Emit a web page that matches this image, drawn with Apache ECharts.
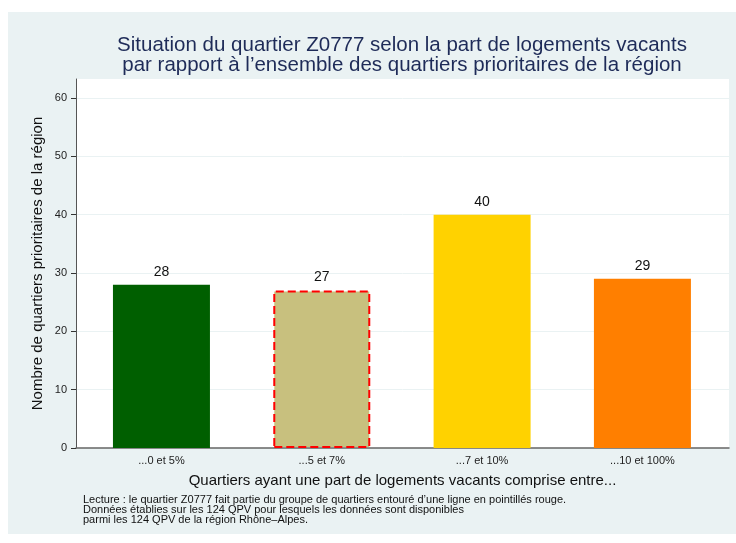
<!DOCTYPE html>
<html>
<head>
<meta charset="utf-8">
<script src="https://cdn.jsdelivr.net/npm/echarts@6/dist/echarts.min.js"></script>
<style>
  html, body { margin: 0; padding: 0; background: #fff; }
  #page { width: 736px; height: 543px; position: relative; background: #fff; }
  #chart { position: absolute; left: 8px; top: 12px; width: 728px; height: 522px; }
</style>
</head>
<body>
<div id="page"><div id="chart"></div></div>
<script>
// categories and values
var categories = ['...0 et 5%', '...5 et 7%', '...7 et 10%', '...10 et 100%']
var values = [28, 27, 40, 29]
var barColors = ['#005f00', '#c8c07e', '#ffd200', '#ff7f00']
var highlightIndex = 1

var titleLines = [
    'Situation du quartier Z0777 selon la part de logements vacants',
    'par rapport à l\u2019ensemble des quartiers prioritaires de la région'
]
var noteLines = [
    'Lecture : le quartier Z0777 fait partie du groupe de quartiers entouré d\u2019une ligne en pointillés rouge.',
    'Données établies sur les 124 QPV pour lesquels les données sont disponibles',
    'parmi les 124 QPV de la région Rhône\u2013Alpes.'
]

var font = '"Liberation Sans", Arial, sans-serif'
var myChart = echarts.init(document.getElementById('chart'))

// bars: x is the category index on a value axis
var barData = values.map(function (v, i) {
    var item = {
        value: [i, v],
        itemStyle: { color: barColors[i] }
    }
    if (i === highlightIndex) {
        item.itemStyle.borderColor = '#ff0000'
        item.itemStyle.borderWidth = 2
        item.itemStyle.borderType = [8, 4]
    }
    return item
})

var option = {
    backgroundColor: '#eaf2f3',
    animation: false,
    textStyle: { fontFamily: font },
    title: [{
        text: titleLines.join('\n'),
        left: 389,
        textAlign: 'center',
        top: 18,
        textStyle: {
            fontFamily: font,
            fontSize: 20.5,
            fontWeight: 'normal',
            color: '#1e2b58',
            lineHeight: 20
        }
    }, {
        text: noteLines.join('\n'),
        left: 70,
        top: 478,
        textStyle: {
            fontFamily: font,
            fontSize: 11,
            fontWeight: 'normal',
            color: '#111',
            lineHeight: 10
        }
    }],
    // grid 0 : white plot region + full-height y axis line
    // grid 1 : the real scale (0..60), a bit lower at the top
    grid: [{
        left: 68,
        right: 7,
        top: 67,
        bottom: 86,
        show: true,
        backgroundColor: '#ffffff',
        borderWidth: 0
    }, {
        left: 68,
        right: 7,
        top: 86,
        bottom: 86
    }],
    xAxis: [{
        gridIndex: 0,
        type: 'value',
        show: false
    }, {
        gridIndex: 1,
        type: 'value',
        min: -0.533,
        max: 3.54,
        name: 'Quartiers ayant une part de logements vacants comprise entre...',
        nameLocation: 'middle',
        nameGap: 25,
        nameTextStyle: { fontFamily: font, fontSize: 15, color: '#111' },
        axisLine: { show: true, onZero: false, lineStyle: { color: '#666', width: 1.5 } },
        axisTick: { show: false },
        splitLine: { show: false },
        axisLabel: {
            customValues: [0, 1, 2, 3],
            formatter: function (v) { return categories[Math.round(v)] },
            fontSize: 11,
            color: '#222',
            margin: 7
        }
    }],
    yAxis: [{
        gridIndex: 0,
        type: 'value',
        min: 0,
        max: 1,
        name: 'Nombre de quartiers prioritaires de la région',
        nameLocation: 'middle',
        nameGap: 31,
        nameTextStyle: { fontFamily: font, fontSize: 15, color: '#111' },
        axisLine: { show: true, onZero: false, lineStyle: { color: '#555', width: 1 } },
        axisTick: { show: false },
        axisLabel: { show: false },
        splitLine: { show: false }
    }, {
        gridIndex: 1,
        type: 'value',
        min: 0,
        max: 60,
        interval: 10,
        axisLine: { show: false, onZero: false },
        axisTick: { show: true, length: 5, lineStyle: { color: '#333', width: 1 } },
        axisLabel: {
            fontSize: 11,
            color: '#222',
            margin: 9
        },
        splitLine: { show: true, lineStyle: { color: '#eaf2f3', width: 1 } }
    }],
    series: [{
        type: 'bar',
        xAxisIndex: 1,
        yAxisIndex: 1,
        barWidth: 97,
        data: barData,
        label: {
            show: true,
            position: 'top',
            distance: 6,
            fontSize: 14,
            color: '#111',
            formatter: function (p) { return p.value[1] }
        }
    }]
}

myChart.setOption(option)
</script>
</body>
</html>
